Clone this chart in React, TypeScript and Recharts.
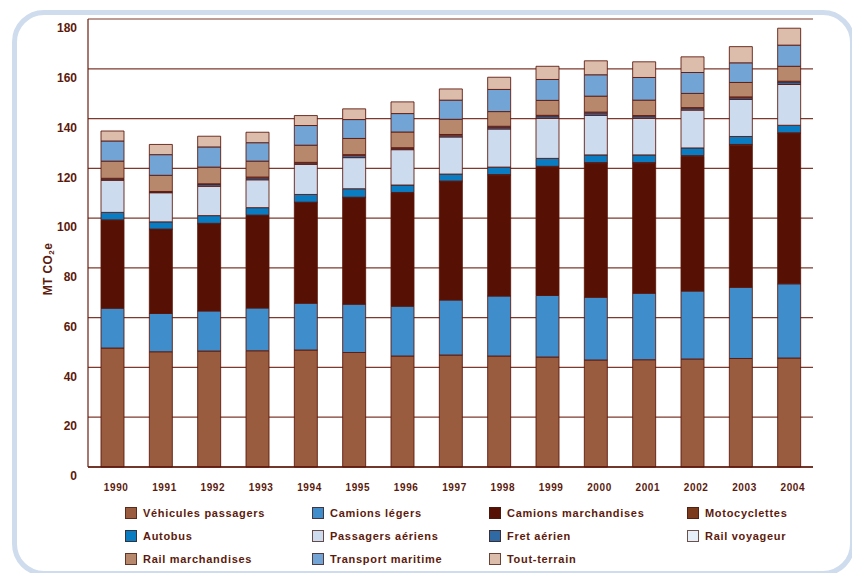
import { BarChart, Bar, XAxis, YAxis, CartesianGrid } from "recharts";

const years = ["1990", "1991", "1992", "1993", "1994", "1995", "1996", "1997", "1998", "1999", "2000", "2001", "2002", "2003", "2004"];

const vehiculesPassagers = [47.8, 46.3, 46.6, 46.7, 47.0, 46.0, 44.6, 45.0, 44.6, 44.2, 43.0, 43.1, 43.4, 43.6, 43.8];
const camionsLegers = [16.0, 15.4, 16.1, 17.2, 18.8, 19.4, 20.0, 22.1, 24.1, 24.7, 25.2, 26.7, 27.3, 28.6, 29.8];
const camionsMarchandises = [35.3, 33.7, 35.0, 37.1, 40.4, 42.8, 45.5, 47.5, 48.5, 51.6, 53.8, 52.2, 54.1, 57.1, 60.4];
const motocyclettes = [0.2, 0.2, 0.2, 0.2, 0.2, 0.2, 0.2, 0.3, 0.3, 0.3, 0.3, 0.3, 0.3, 0.3, 0.3];
const autobus = [3.0, 2.9, 3.1, 3.0, 3.1, 3.4, 3.0, 2.8, 3.0, 3.2, 3.1, 3.1, 3.1, 3.2, 3.0];
const passagersAeriens = [12.9, 11.7, 11.8, 11.2, 12.1, 12.5, 14.2, 14.9, 15.3, 16.1, 15.9, 14.7, 15.2, 14.9, 16.4];
const fretAerien = [0.5, 0.3, 0.7, 0.8, 0.5, 0.9, 0.5, 0.7, 0.8, 0.9, 1.0, 0.8, 0.7, 0.7, 1.0];
const railVoyageur = [0.3, 0.2, 0.3, 0.3, 0.3, 0.3, 0.3, 0.3, 0.3, 0.3, 0.3, 0.3, 0.3, 0.3, 0.3];
const railMarchandises = [6.9, 6.5, 6.7, 6.4, 6.9, 6.5, 6.3, 6.1, 5.9, 6.0, 6.4, 6.2, 5.7, 5.8, 6.0];
const transportMaritime = [8.1, 8.3, 8.1, 7.4, 7.9, 7.6, 7.4, 7.7, 8.9, 8.4, 8.6, 9.1, 8.4, 7.9, 8.5];
const toutTerrain = [4.0, 4.1, 4.3, 4.2, 4.0, 4.3, 4.7, 4.5, 4.9, 5.3, 5.6, 6.3, 6.3, 6.5, 6.8];

const yTicks = [0, 20, 40, 60, 80, 100, 120, 140, 160, 180];

// legend order == stacking order (bottom to top)
const series = [
  { key: "vp", name: "Véhicules passagers", color: "#9a5c3e", values: vehiculesPassagers },
  { key: "cl", name: "Camions légers", color: "#3f8dcb", values: camionsLegers },
  { key: "cm", name: "Camions marchandises", color: "#561104", values: camionsMarchandises },
  { key: "mo", name: "Motocyclettes", color: "#7b3a1c", values: motocyclettes },
  { key: "au", name: "Autobus", color: "#0a7cc2", values: autobus },
  { key: "pa", name: "Passagers aériens", color: "#ccdbee", values: passagersAeriens },
  { key: "fa", name: "Fret aérien", color: "#2f6aa5", values: fretAerien },
  { key: "rv", name: "Rail voyageur", color: "#e6eef8", values: railVoyageur },
  { key: "rm", name: "Rail marchandises", color: "#b8886c", values: railMarchandises },
  { key: "tm", name: "Transport maritime", color: "#72a5d6", values: transportMaritime },
  { key: "tt", name: "Tout-terrain", color: "#dcbcab", values: toutTerrain },
];

const data = years.map((year, i) => {
  const row: Record<string, string | number> = { year };
  series.forEach((s) => {
    row[s.key] = s.values[i];
  });
  return row;
});

const edgeTicks = [...years.map((_, i) => i), years.length];

const ink = "#5c1a0c";
const font = "'Liberation Sans', Arial, sans-serif";

function YTick({ x, y, payload }: any) {
  return (
    <text x={x - 11} y={y + 9} dy="0.355em" textAnchor="end" fill={ink} fontSize={12} fontWeight="bold" fontFamily={font}>
      {payload.value}
    </text>
  );
}

function XTick({ x, y, payload }: any) {
  return (
    <text x={x + 4} y={y + 20} dy="0.355em" textAnchor="middle" fill={ink} fontSize={10} fontWeight="bold" fontFamily={font} letterSpacing={0.6}>
      {payload.value}
    </text>
  );
}

function YTitle({ viewBox }: any) {
  const cx = viewBox.x + 20;
  const cy = viewBox.y + viewBox.height / 2 + 26;
  return (
    <text
      x={cx}
      y={cy}
      transform={`rotate(-90, ${cx}, ${cy})`}
      textAnchor="middle"
      dominantBaseline="central"
      fill={ink}
      fontSize={12}
      fontWeight="bold"
      fontFamily={font}
      letterSpacing={0.4}
    >
      MT CO<tspan dy={3} fontSize={8}>2</tspan>
      <tspan dy={-3}>e</tspan>
    </text>
  );
}

const legendCols = [125, 312, 489, 687];
const legendRows = [507, 530, 553];

function ChartLegend() {
  return (
    <>
      {series.map((s, i) => (
        <div
          key={s.key}
          style={{
            position: "absolute",
            left: legendCols[i % 4],
            top: legendRows[Math.floor(i / 4)],
            display: "flex",
            alignItems: "center",
            fontFamily: font,
            fontWeight: "bold",
            fontSize: 11,
            letterSpacing: 0.7,
            color: ink,
            whiteSpace: "nowrap",
          }}
        >
          <span
            style={{
              width: 10,
              height: 10,
              background: s.color,
              border: "1px solid rgba(70,25,15,0.75)",
              marginRight: 6,
              display: "inline-block",
            }}
          />
          {s.name}
        </div>
      ))}
    </>
  );
}

export default function App() {
  return (
    <div style={{ position: "absolute", left: 0, top: 0, width: 852, height: 573, overflow: "hidden", background: "#fff" }}>
      <div
        style={{
          position: "absolute",
          left: 12,
          top: 10,
          width: 843,
          height: 566,
          boxSizing: "border-box",
          border: "5px solid #cfdcee",
          borderRadius: 32,
        }}
      />
      <div style={{ position: "absolute", left: 0, top: 0 }}>
        <BarChart width={852} height={573} data={data} margin={{ top: 19, right: 39, left: 28, bottom: 105 }}>
          <CartesianGrid vertical={false} stroke="#7d3a2c" strokeWidth={1.2} />
          <XAxis
            dataKey="year"
            height={1}
            tickLine={false}
            tickSize={0}
            tickMargin={0}
            axisLine={{ stroke: "#5a1408", strokeWidth: 1.5 }}
            tick={<XTick />}
            interval={0}
          />
          <XAxis
            xAxisId="edges"
            type="number"
            domain={[0, years.length]}
            ticks={edgeTicks}
            height={1}
            mirror
            tick={false}
            tickSize={11}
            axisLine={false}
            tickLine={{ stroke: "#6b2418", strokeWidth: 1.2 }}
          />
          <YAxis
            width={60}
            domain={[0, 180]}
            ticks={yTicks}
            tickLine={false}
            tickSize={0}
            tickMargin={0}
            axisLine={{ stroke: "#6b1e10", strokeWidth: 1.2 }}
            tick={<YTick />}
            label={<YTitle />}
          />
          {series.map((s) => (
            <Bar
              key={s.key}
              dataKey={s.key}
              name={s.name}
              stackId="t"
              fill={s.color}
              stroke="#5a1408"
              strokeOpacity={0.85}
              strokeWidth={1}
              barSize={23}
              isAnimationActive={false}
            />
          ))}
        </BarChart>
      </div>
      <ChartLegend />
    </div>
  );
}
